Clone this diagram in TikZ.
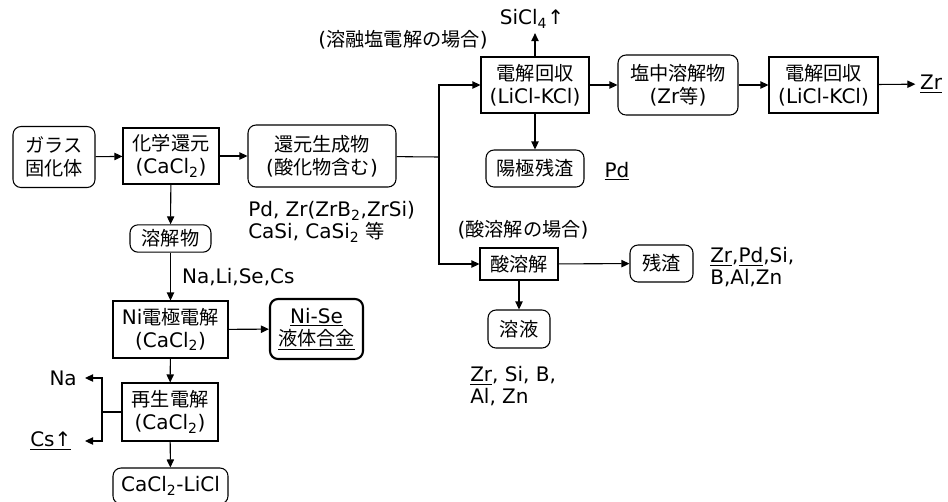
\documentclass[tikz,border=0pt]{standalone}
\usepackage{fontspec}
\setmainfont{DejaVu Sans}
\newfontfamily\jpfont{Noto Sans CJK JP}[Scale=0.96]
\newcommand\jtext[1]{{\jpfont #1}}
\usepackage{tikz}
\usetikzlibrary{arrows.meta,positioning}

\begin{document}
\begin{tikzpicture}[x=0.75pt,y=-0.75pt,
    font=\fontsize{15}{17.2}\selectfont,
    proc/.style={draw,line width=0.8pt,align=center,inner sep=0pt},
    prod/.style={draw,line width=0.8pt,rounded corners=6pt,align=center,inner sep=0pt},
    arr/.style={-{Triangle[length=6pt,width=5.5pt]},line width=0.8pt},
    lbl/.style={align=left,inner sep=0pt,font=\fontsize{15}{16.5}\selectfont}]
  \useasboundingbox (0,0) rectangle (948,501);

  % Vorbehandlung: chemische Reduktion
  \node[prod,minimum width=61.5pt,minimum height=45.75pt] (glass) at (54,157) {\jtext{ガラス}\\\jtext{固化体}};
  \node[proc,minimum width=72pt,minimum height=42pt] (reduce) at (171,156) {\jtext{化学還元}\\(CaCl\textsubscript{2})};
  \node[prod,minimum width=111pt,minimum height=46.5pt] (product) at (322,156) {\jtext{還元生成物}\\(\jtext{酸化物含む})};
  \node[lbl,anchor=west] (prodtxt) at (248,222)
    {Pd, Zr(ZrB\textsubscript{2},ZrSi)\\CaSi, CaSi\textsubscript{2} \jtext{等}};
  \draw[arr] (glass) -- (reduce);
  \draw[arr] (reduce) -- (product);

  % Zweig: Salzschmelze-Elektrolyse
  \coordinate (br) at (439,157);
  \node (molten) at (403,40) {(\jtext{溶融塩電解の場合})};
  \node[proc,minimum width=81pt,minimum height=42pt] (elec1) at (535,85) {\jtext{電解回収}\\(LiCl-KCl)};
  \node (sicl) at (532,19) {SiCl\textsubscript{4}↑};
  \node[prod,minimum width=73.5pt,minimum height=27.75pt] (anode) at (535,168.5) {\jtext{陽極残渣}};
  \node (pd) at (617,171) {\underline{Pd}};
  \node[prod,minimum width=90pt,minimum height=45pt] (salt) at (678,85) {\jtext{塩中溶解物}\\(Zr\jtext{等})};
  \node[proc,minimum width=81.75pt,minimum height=42pt] (elec2) at (823.5,85) {\jtext{電解回収}\\(LiCl-KCl)};
  \node (zr) at (931,84) {\underline{Zr}};
  \draw[line width=0.8pt] (product) -- (br);
  \draw[arr] (br) |- (elec1);
  \draw[arr] (elec1.north) -- (elec1.north |- sicl.south);
  \draw[arr] (elec1) -- (anode);
  \draw[arr] (elec1) -- (salt);
  \draw[arr] (salt) -- (elec2);
  \draw[arr] (elec2) -- (zr);

  % Zweig: Saeureaufloesung
  \node (acidcase) at (523,230) {(\jtext{酸溶解の場合})};
  \node[proc,minimum width=58.5pt,minimum height=24pt] (acid) at (519,264) {\jtext{酸溶解}};
  \node[prod,minimum width=47.25pt,minimum height=27.75pt] (residue) at (661.5,263.5) {\jtext{残渣}};
  \node[lbl,anchor=west] (restxt) at (710,267.5) {\underline{Zr},\underline{Pd},Si,\\B,Al,Zn};
  \node[prod,minimum width=46.5pt,minimum height=28.5pt] (soln) at (519,329) {\jtext{溶液}};
  \node[lbl,anchor=west] (soltxt) at (470,386.5) {\underline{Zr}, Si, B,\\Al, Zn};
  \draw[arr] (br) |- (acid);
  \draw[arr] (acid) -- (residue);
  \draw[arr] (acid) -- (soln);

  % Salzphase: Ni-Elektrode und Regeneration
  \node[prod,minimum width=60.75pt,minimum height=20.5pt] (dissolved) at (170.5,238.5) {\jtext{溶解物}};
  \node[proc,minimum width=86.25pt,minimum height=42.75pt] (ni) at (170.5,329.5) {Ni\jtext{電極電解}\\(CaCl\textsubscript{2})};
  \node[prod,line width=1.6pt,minimum width=69.75pt,minimum height=45pt] (nise) at (316.5,329) {\underline{Ni-Se}\\\underline{\jtext{液体合金}}};
  \node[proc,minimum width=72pt,minimum height=43.5pt] (regen) at (170,412) {\jtext{再生電解}\\(CaCl\textsubscript{2})};
  \node[prod,minimum width=86.25pt,minimum height=27pt] (cacl) at (170.5,486) {CaCl\textsubscript{2}-LiCl};
  \coordinate (split) at (102,412);
  \node[anchor=east,inner xsep=6pt] (na) at (85,378) {Na};
  \node[anchor=east,inner xsep=10pt] (cs) at (85,441) {\underline{Cs↑}};
  \draw[arr] (reduce) -- (dissolved);
  \draw[arr] (dissolved) -- node[right=5pt] {Na,Li,Se,Cs} (ni);
  \draw[arr] (ni) -- (nise);
  \draw[arr] (ni) -- (regen);
  \draw[arr] (regen) -- (cacl);
  \draw[line width=0.8pt] (regen) -- (split);
  \draw[arr] (split) |- (na);
  \draw[arr] (split) |- (cs);
\end{tikzpicture}
\end{document}
